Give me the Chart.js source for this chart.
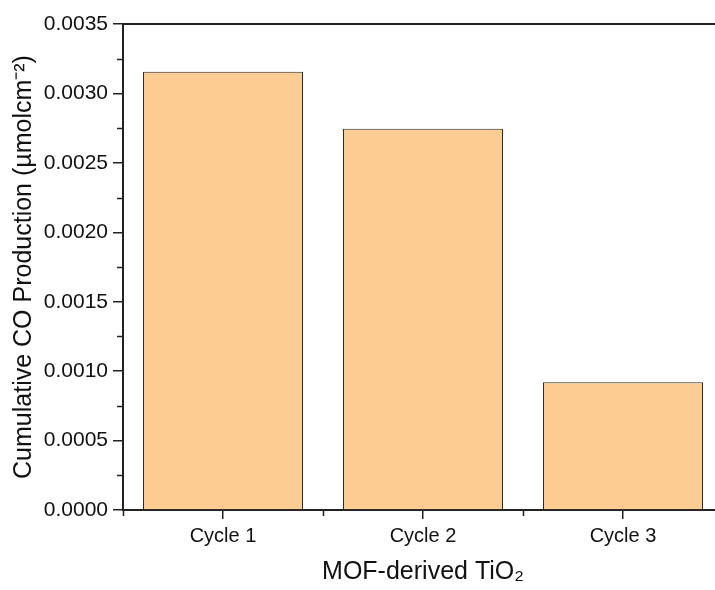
<!DOCTYPE html>
<html>
<head>
<meta charset="utf-8">
<script src="https://cdn.jsdelivr.net/npm/chart.js@4"></script>
<style>
html,body{margin:0;padding:0;overflow:hidden;background:#fff}
</style>
</head>
<body>
<canvas id="grafica" width="735" height="590"></canvas>
<script>
// datos de la grafica
var ciclos = ["Cycle 1", "Cycle 2", "Cycle 3"];
var produccion = [0.003157, 0.002746, 0.00092];
var tituloX = "MOF-derived TiO\u2082";
var tituloY = "Cumulative CO Production (\u00b5molcm\u207b\u00b2)";

var fuente = "'Liberation Sans', Arial, sans-serif";

// marco superior y marcas menores
var marcoPlugin = {
  id: "marco",
  afterDraw: function (chart) {
    var ctx = chart.ctx, a = chart.chartArea;
    var ys = chart.scales.y, xs = chart.scales.x;
    ctx.save();
    ctx.strokeStyle = "#222";
    ctx.lineWidth = 2;
    ctx.beginPath();
    ctx.moveTo(a.left - 1, a.top);
    ctx.lineTo(a.right, a.top);
    ctx.stroke();
    ctx.lineWidth = 1.5;
    ctx.beginPath();
    for (var v = 0.00025; v < 0.0035; v += 0.0005) {
      var py = Math.round(ys.getPixelForValue(v)) + 0.5;
      ctx.moveTo(a.left - 6, py);
      ctx.lineTo(a.left, py);
    }
    for (var i = 0; i <= ciclos.length; i++) {
      var px = Math.round(xs.getPixelForValue(i - 0.5)) + 0.5;
      ctx.moveTo(px, a.bottom);
      ctx.lineTo(px, a.bottom + 6);
    }
    ctx.stroke();
    ctx.restore();
  }
};

var ctx = document.getElementById("grafica").getContext("2d");
var miGrafica = new Chart(ctx, {
  type: "bar",
  data: {
    labels: ciclos,
    datasets: [{
      label: "CO",
      data: produccion,
      backgroundColor: "rgb(253, 204, 146)",
      borderColor: "#2a2a2a",
      borderWidth: 1,
      barPercentage: 0.8,
      categoryPercentage: 1
    }]
  },
  options: {
    responsive: false,
    animation: false,
    layout: { padding: { top: 24, right: 12, left: 0, bottom: 0 } },
    plugins: { legend: { display: false }, tooltip: { enabled: false } },
    scales: {
      x: {
        afterFit: function (s) { s.height = 80; },
        grid: { offset: false, drawOnChartArea: false, tickLength: 9, color: "#222", lineWidth: 1.5 },
        border: { color: "#222", width: 2 },
        ticks: { color: "#111", padding: 5, font: { family: fuente, size: 20 } },
        title: { display: true, text: tituloX, color: "#111", padding: { bottom: 3 }, font: { family: fuente, size: 25 } }
      },
      y: {
        min: 0,
        max: 0.0035,
        afterFit: function (s) { s.width = 123; },
        grid: { drawOnChartArea: false, tickLength: 10, color: "#222", lineWidth: 1.5 },
        border: { color: "#222", width: 2 },
        ticks: {
          stepSize: 0.0005, color: "#111", padding: 5,
          font: { family: fuente, size: 21 },
          callback: function (v) { return v.toFixed(4); }
        },
        title: { display: true, text: tituloY, color: "#111", padding: { top: 9 }, font: { family: fuente, size: 25 } }
      }
    }
  },
  plugins: [marcoPlugin]
});
</script>
</body>
</html>
